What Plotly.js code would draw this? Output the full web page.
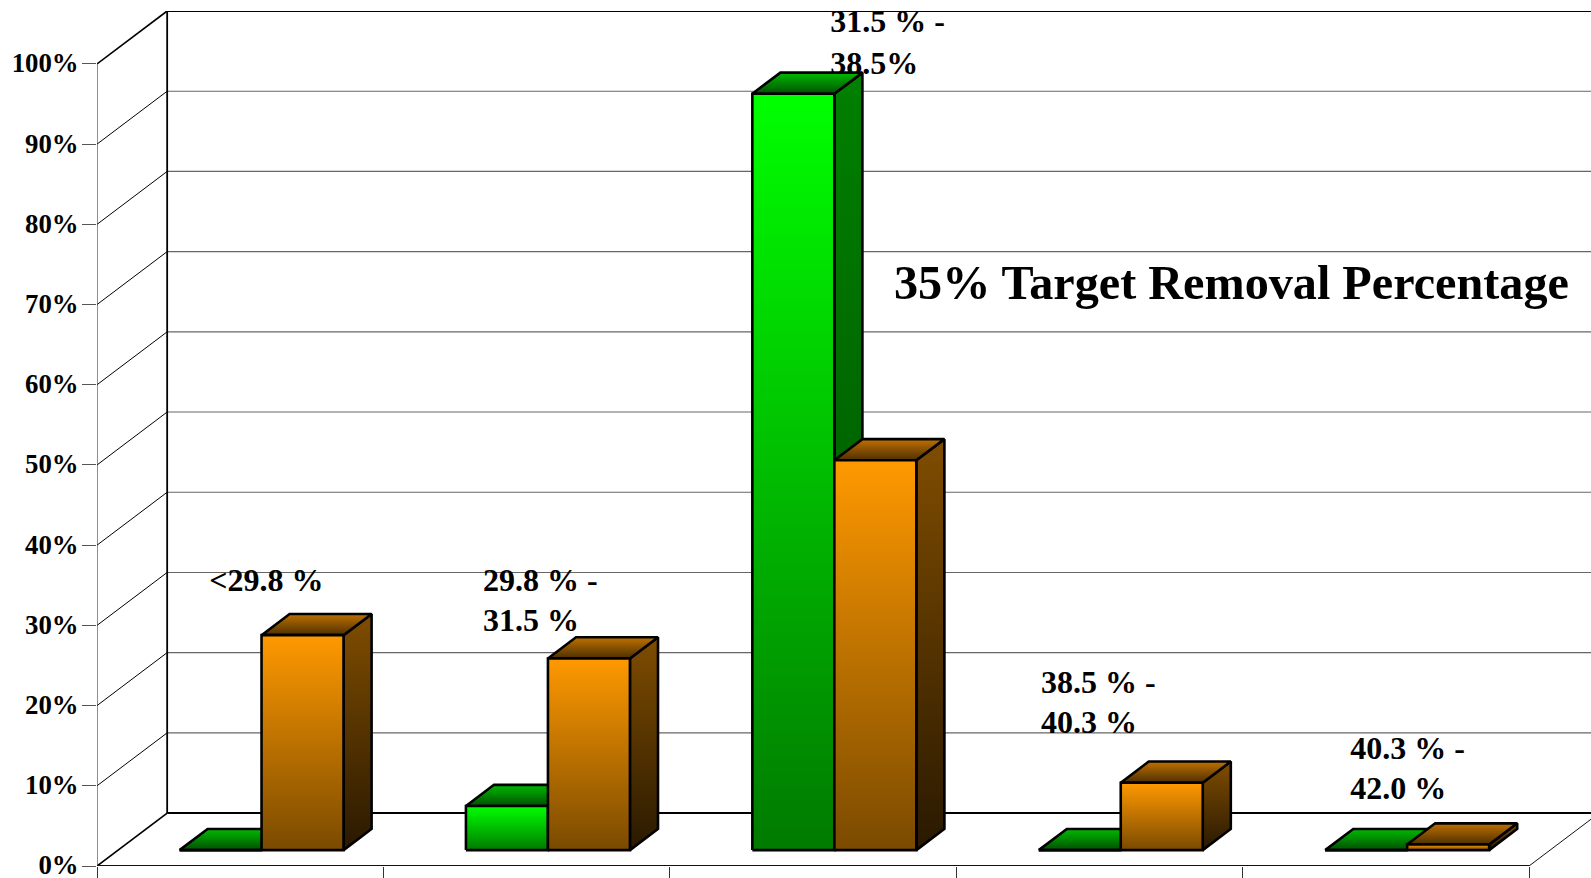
<!DOCTYPE html>
<html>
<head>
<meta charset="utf-8">
<script src="https://cdn.plot.ly/plotly-3.0.1.min.js"></script>
<style>html,body{margin:0;padding:0;background:#fff;overflow:hidden}#chart{width:1591px;height:878px}</style>
</head>
<body>
<div id="chart"></div>
<script>
// Data
const categories = [0, 1, 2, 3, 4];
const greenValues = [0, 5.5, 94.3, 0, 0];
const orangeValues = [26.8, 23.9, 48.6, 8.4, 0.7];
const yTickVals = [0, 10, 20, 30, 40, 50, 60, 70, 80, 90, 100];
const yTickText = yTickVals.map(v => v + '%');
const labelLines = ['<29.8 %', '29.8 % -', '31.5 %', '31.5 % -', '38.5%', '38.5 % -', '40.3 %', '40.3 % -', '42.0 %'];
const labelX = [0.392, 1.348, 1.348, 2.56, 2.56, 3.296, 3.296, 4.376, 4.376];
const labelY = [35.33, 35.33, 30.33, 104.93, 99.73, 22.53, 17.63, 14.33, 9.33];
const annotationText = '35% Target Removal Percentage';

// Oblique projection constants, in axis units
const depthX = 0.245, depthY = 6.6;
const barW = 0.2863, gap = (1 - 2 * barW) / 2 + 0.001;
const near = 0.3, far = 0.7;
const serif = '"Liberation Serif", "Times New Roman", serif';
const black = '#000';

const traces = [];
function line(xs, ys, color, width, clip) {
  traces.push({type: 'scatter', mode: 'lines', x: xs, y: ys, hoverinfo: 'skip',
    line: {color: color, width: width}, cliponaxis: !!clip});
}
function face(pts, c0, c1) {
  traces.push({type: 'scatter', mode: 'lines', hoverinfo: 'skip', cliponaxis: false,
    x: pts.map(p => p[0]).concat(pts[0][0]), y: pts.map(p => p[1]).concat(pts[0][1]),
    fill: 'toself',
    fillgradient: {type: 'vertical', colorscale: [[0, c1], [1, c0]]},
    line: {color: black, width: 2.6, shape: 'linear'}});
}
function box(x0, val, palette) {
  const px = (x, v, d) => [x + d * depthX, v + d * depthY];
  const x1 = x0 + barW;
  face([px(x1, 0, near), px(x1, 0, far), px(x1, val, far), px(x1, val, near)], palette.side[0], palette.side[1]);
  face([px(x0, val, near), px(x1, val, near), px(x1, val, far), px(x0, val, far)], palette.top[0], palette.top[1]);
  face([px(x0, 0, near), px(x1, 0, near), px(x1, val, near), px(x0, val, near)], palette.front[0], palette.front[1]);
}

// Walls and grid
yTickVals.forEach(v => {
  const edge = v === 0 || v === 100;
  if (!edge) line([depthX, 5 + depthX], [v + depthY, v + depthY], '#666', 1.1, true);
  line([0, depthX], [v, v + depthY], black, edge ? 1.7 : 1, false);
});
line([depthX, 5 + depthX], [100 + depthY, 100 + depthY], black, 2, false);
line([depthX, 5 + depthX], [depthY, depthY], black, 2, false);
line([depthX, depthX], [depthY, 100 + depthY], black, 1.8, false);
line([0, 0], [0, 100], '#222', 1, false);
line([0, 5], [0, 0], '#111', 2, false);
line([5, 5 + depthX], [0, depthY], '#111', 1, false);

// Labels sit behind the bars and are clipped by the plot area
traces.push({type: 'scatter', mode: 'text', x: labelX, y: labelY, text: labelLines, hoverinfo: 'skip',
  textposition: 'middle right', cliponaxis: true,
  textfont: {family: serif, size: 32, color: black, weight: 700}});

const green = {front: ['#00ff00', '#007a00'], side: ['#008000', '#004a00'], top: ['#00bb00', '#005000']};
const orange = {front: ['#ff9900', '#7a4a00'], side: ['#804d00', '#291900'], top: ['#c07000', '#4d3000']};
categories.forEach(i => {
  box(i + gap, greenValues[i], green);
  box(i + gap + barW, orangeValues[i], orange);
});

const layout = {
  width: 1591, height: 878, showlegend: false,
  margin: {l: 97, r: 0, t: 11, b: 12, pad: 0},
  paper_bgcolor: '#fff', plot_bgcolor: '#fff',
  font: {family: serif, color: black},
  xaxis: {range: [0, 1494 / 286.4], showgrid: false, zeroline: false, showline: false,
    tickmode: 'array', tickvals: [0, 1, 2, 3, 4, 5], ticktext: ['', '', '', '', '', ''],
    ticks: 'outside', ticklen: 12, tickwidth: 1, tickcolor: '#333', showticklabels: false},
  yaxis: {range: [0, 100 + depthY], showgrid: false, zeroline: false, showline: false,
    tickmode: 'array', tickvals: yTickVals, ticktext: yTickText,
    ticks: 'outside', ticklen: 14, tickwidth: 1, tickcolor: '#555',
    ticklabeloverflow: 'allow', ticklabelstandoff: -2, ticklabelshift: -1,
    tickfont: {family: serif, size: 26.8, color: black, weight: 700}},
  annotations: [{x: 2.776, y: 72.7, xref: 'x', yref: 'y', text: annotationText, showarrow: false,
    xanchor: 'left', yanchor: 'middle', align: 'left',
    font: {family: serif, size: 48.2, color: black, weight: 700}}]
};
Plotly.newPlot('chart', traces, layout, {displayModeBar: false, staticPlot: true});
</script>
</body>
</html>
